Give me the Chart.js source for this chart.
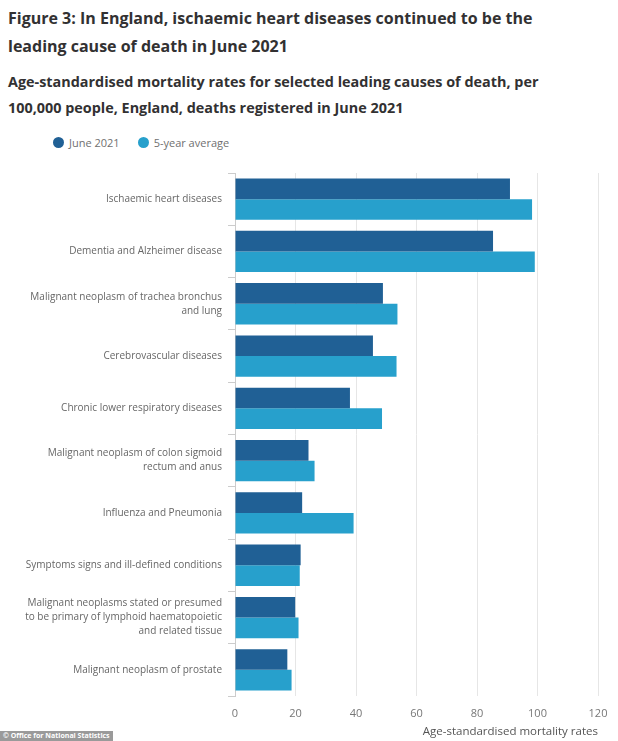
<!DOCTYPE html>
<html>
<head>
<meta charset="utf-8">
<script src="https://cdn.jsdelivr.net/npm/chart.js@4"></script>
<style>
  body { margin: 0; background: #fff; font-family: "Open Sans", sans-serif; }
  #wrap { position: relative; width: 618px; height: 741px; overflow: hidden; }
  h1 { position: absolute; left: 8px; top: 4px; margin: 0; font-size: 16px; line-height: 28px; font-weight: 700; color: #323132; width: 535px; }
  h2 { position: absolute; left: 8px; top: 69px; margin: 0; font-size: 14.4px; line-height: 26px; font-weight: 700; color: #323132; width: 540px; }
  #legend { position: absolute; left: 53px; top: 135px; font-size: 11px; color: #707070; }
  #legend span.item { margin-right: 18px; }
  #legend span.dot { display: inline-block; width: 11px; height: 11px; border-radius: 50%; vertical-align: -1px; margin-right: 5px; }
  #box { position: absolute; left: 0; top: 160px; width: 618px; height: 581px; }
  #credit { position: absolute; left: 0; top: 731px; background: #9a9a9a; color: #fff; font-size: 7px; font-weight: 700; padding: 1px 3px; line-height: 8px; }
</style>
</head>
<body>
<div id="wrap">
  <h1>Figure 3: In England, ischaemic heart diseases continued to be the leading cause of death in June 2021</h1>
  <h2>Age-standardised mortality rates for selected leading causes of death, per 100,000 people, England, deaths registered in June 2021</h2>
  <div id="legend"></div>
  <div id="box"><canvas id="myChart"></canvas></div>
  <div id="credit">© Office for National Statistics</div>
</div>
<script>
// causes of death
var causes = [
    ["Ischaemic heart diseases"],
    ["Dementia and Alzheimer disease"],
    ["Malignant neoplasm of trachea bronchus", "and lung"],
    ["Cerebrovascular diseases"],
    ["Chronic lower respiratory diseases"],
    ["Malignant neoplasm of colon sigmoid", "rectum and anus"],
    ["Influenza and Pneumonia"],
    ["Symptoms signs and ill-defined conditions"],
    ["Malignant neoplasms stated or presumed", "to be primary of lymphoid haematopoietic", "and related tissue"],
    ["Malignant neoplasm of prostate"]
];
// June 2021
var june_2021 = [90.9, 85.3, 48.9, 45.6, 38.0, 24.3, 22.2, 21.7, 19.9, 17.3];
// 5-year average
var five_year_avg = [98.2, 99.1, 53.7, 53.4, 48.6, 26.3, 39.2, 21.4, 21.0, 18.7];
// x ticks
var x_ticks = [0, 20, 40, 60, 80, 100, 120];

var seriesNames = ["June 2021", "5-year average"];
var seriesColors = ["#206095", "#27a0cc"];

// legend
var legendHtml = "";
for (var i = 0; i < seriesNames.length; i++) {
    legendHtml += '<span class="item"><span class="dot" style="background:' + seriesColors[i] + '"></span>' + seriesNames[i] + '</span>';
}
document.getElementById("legend").innerHTML = legendHtml;

var ctx = document.getElementById("myChart");
var myChart = new Chart(ctx, {
    type: 'bar',
    data: {
        labels: causes,
        datasets: [
            {
                label: seriesNames[0],
                data: june_2021,
                backgroundColor: seriesColors[0],
                barPercentage: 1.0,
                categoryPercentage: 0.79
            },
            {
                label: seriesNames[1],
                data: five_year_avg,
                backgroundColor: seriesColors[1],
                barPercentage: 1.0,
                categoryPercentage: 0.79
            }
        ]
    },
    options: {
        indexAxis: 'y',
        responsive: true,
        maintainAspectRatio: false,
        animation: false,
        layout: { padding: { top: 12, right: 20, bottom: 0, left: 0 } },
        plugins: {
            legend: { display: false },
            tooltip: { enabled: false }
        },
        scales: {
            x: {
                min: 0,
                max: 120,
                afterBuildTicks: function (scale) {
                    scale.ticks = x_ticks.map(function (v) { return { value: v }; });
                },
                afterFit: function (scale) { scale.height = 45; },
                grid: { color: '#e6e6e6', drawTicks: true, tickLength: 7, tickColor: 'rgba(0,0,0,0)' },
                border: { display: false },
                ticks: { color: '#777', padding: 4, font: { family: 'Open Sans', size: 11 } },
                title: {
                    display: true,
                    align: 'end',
                    text: 'Age-standardised mortality rates',
                    color: '#555',
                    padding: { top: 0, bottom: 2 },
                    font: { family: 'Open Sans', size: 11.5 }
                }
            },
            y: {
                afterFit: function (scale) { scale.width = 235; },
                grid: { drawOnChartArea: false, color: '#cccccc', tickLength: 7, offset: true },
                border: { display: true, color: '#cccccc' },
                ticks: { color: '#666', padding: 6, font: { family: 'Open Sans', size: 10, lineHeight: 1.4 } }
            }
        }
    }
});
</script>
</body>
</html>
